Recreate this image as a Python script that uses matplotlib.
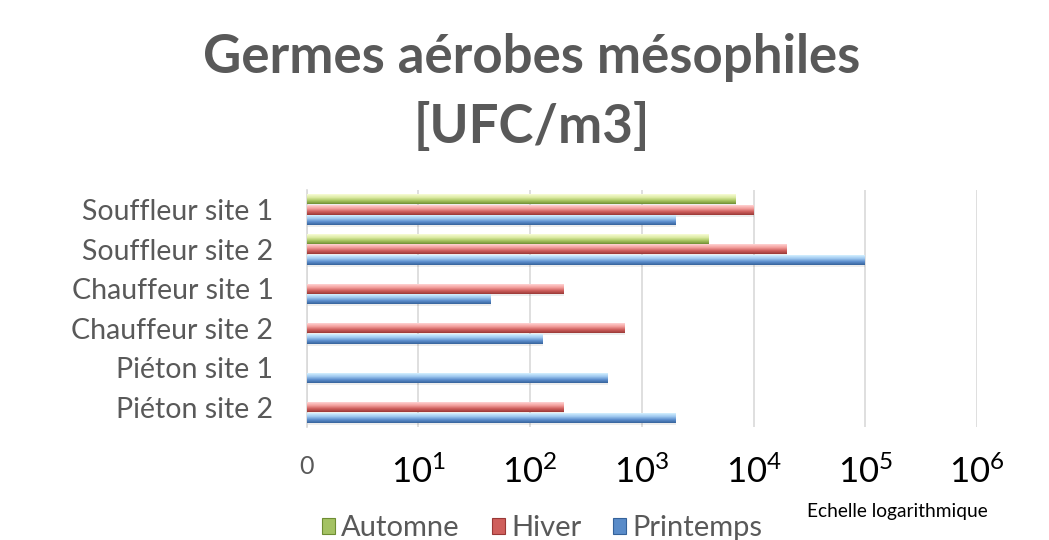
import numpy as np
import matplotlib
matplotlib.use("Agg")
import matplotlib.pyplot as plt
from matplotlib.colors import LinearSegmentedColormap
from matplotlib.patches import Patch

plt.rcParams['font.family'] = ['Lato', 'DejaVu Sans']

categories = ["Souffleur site 1", "Souffleur site 2", "Chauffeur site 1",
              "Chauffeur site 2", "Piéton site 1", "Piéton site 2"]
series_names = ["Automne", "Hiver", "Printemps"]
automne = [7000, 4000, np.nan, np.nan, np.nan, np.nan]
hiver = [10000, 20000, 200, 700, np.nan, 200]
printemps = [2000, 100000, 44, 130, 500, 2000]
tick_values = [1, 10, 100, 1000, 10000, 100000, 1000000]
tick_labels = ["0", r"$\mathregular{10^{1}}$", r"$\mathregular{10^{2}}$", r"$\mathregular{10^{3}}$",
               r"$\mathregular{10^{4}}$", r"$\mathregular{10^{5}}$", r"$\mathregular{10^{6}}$"]

gradients = {
    "Automne": ["#f8fcd6", "#dceba4", "#a8c460", "#6e8d33"],
    "Hiver": ["#ffd3d3", "#f3a09e", "#cd5e5c", "#993836"],
    "Printemps": ["#d4f0ff", "#a0caf0", "#5c8dcc", "#35629a"],
}
legend_colors = {"Automne": "#a4c263", "Hiver": "#cf5f5c", "Printemps": "#5a8cc9"}

fig = plt.figure(figsize=(10.49, 5.40), dpi=100)
ax = fig.add_axes([0.2924, 0.2093, 0.639, 0.4389])
ax.set_xscale('log')
ax.set_xlim(1, 1e6)
ax.set_ylim(len(categories) - 0.5, -0.5)

offsets = [-0.27, 0.0, 0.27]
bar_h = 0.255
nstrips = 10
y = np.arange(len(categories))
for s_idx, (name, vals) in enumerate(zip(series_names, [automne, hiver, printemps])):
    cmap = LinearSegmentedColormap.from_list(name, gradients[name])
    vals = np.array(vals, dtype=float)
    # soft shadow
    ax.barh(y + offsets[s_idx] + 0.05, vals, height=bar_h, left=1,
            color="#000000", alpha=0.07, zorder=2)
    for k in range(nstrips):
        sh = bar_h / nstrips
        yy = y + offsets[s_idx] - bar_h / 2 + (k + 0.5) * sh
        ax.barh(yy, vals, height=sh * 1.02, left=1, color=cmap((k + 0.5) / nstrips),
                linewidth=0, zorder=3)

ax.set_yticks(y)
ax.set_yticklabels(categories, fontsize=20.5, color="#595959")
ax.set_xticks(tick_values)
ax.set_xticklabels(tick_labels)
ax.minorticks_off()
for lbl in ax.get_xticklabels():
    lbl.set_color("black")
    lbl.set_fontsize(25)
xl = ax.get_xticklabels()
xl[0].set_fontsize(18)
xl[0].set_color("#595959")
ax.tick_params(axis='both', length=0)
ax.tick_params(axis='x', pad=20)
ax.tick_params(axis='y', pad=24)
ax.grid(axis='x', color="#d9d9d9", linewidth=1.2, zorder=0)
ax.set_axisbelow(True)
for sp in ["top", "right", "bottom"]:
    ax.spines[sp].set_visible(False)
ax.spines["left"].set_color("#d9d9d9")
ax.spines["left"].set_linewidth(1.2)

fig.text(0.507, 1 - 73 / 540, "Germes aérobes mésophiles", ha='center', va='baseline',
         fontsize=38, fontweight='bold', color="#595959")
fig.text(0.507, 1 - 143 / 540, "[UFC/m3]", ha='center', va='baseline',
         fontsize=38, fontweight='bold', color="#595959")

fig.text(897 / 1049, 1 - 511 / 540, "Echelle logarithmique", ha='center', va='center',
         fontsize=13.8, color="black")

handles = [Patch(facecolor=legend_colors[n], edgecolor=gradients[n][3], linewidth=0.8)
           for n in series_names]
fig.legend(handles, series_names, loc='center', bbox_to_anchor=(0.517, 0.022), ncol=3,
           frameon=False, fontsize=21, labelcolor="#595959", handlelength=0.45,
           handleheight=0.45, handletextpad=0.2, columnspacing=1.1, borderpad=0)

fig.savefig("out.png", dpi=100)
